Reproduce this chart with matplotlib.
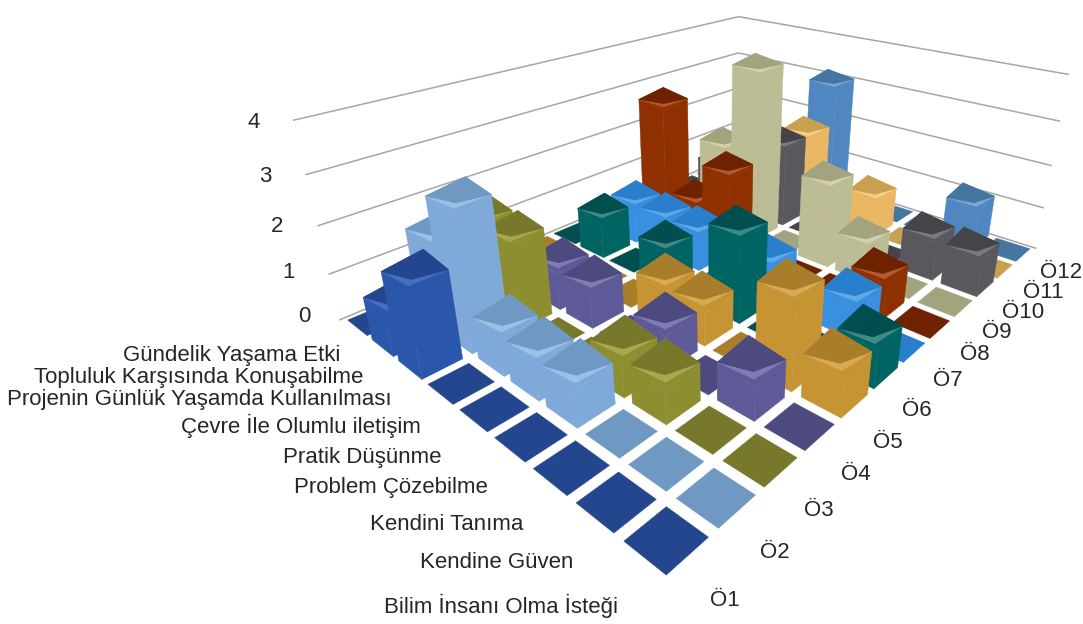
import numpy as np
import matplotlib
matplotlib.use("Agg")
import matplotlib.pyplot as plt
from mpl_toolkits.mplot3d.art3d import Poly3DCollection

WIDTH, HEIGHT = 1083, 624

categories = ["Bilim İnsanı Olma İsteği", "Kendine Güven", "Kendini Tanıma", "Problem Çözebilme",
              "Pratik Düşünme", "Çevre İle Olumlu iletişim", "Projenin Günlük Yaşamda Kullanılması",
              "Topluluk Karşısında Konuşabilme", "Gündelik Yaşama Etki"]
series_names = ["Ö1", "Ö2", "Ö3", "Ö4", "Ö5", "Ö6", "Ö7", "Ö8", "Ö9", "Ö10", "Ö11", "Ö12"]
level_ticks = [0, 1, 2, 3, 4]

# one list per student, running from the first category to the last
o1 = [0, 0, 0, 0, 0, 0, 1.8, 0.9, 0]
o2 = [0, 0, 0, 0.8, 0.8, 0.85, 2.85, 1.9, 0]
o3 = [0, 0, 0.75, 0.78, 0, 0, 1.85, 1.9, 0]
o4 = [0, 0.75, 0, 0.8, 0, 0.85, 0.9, 0, 0]
o5 = [0.85, 1.8, 0, 0.82, 0.85, 0, 0, 0, 0]
o6 = [0.85, 0, 0, 1.85, 0, 0.9, 0, 0.95, 0]
o7 = [0, 0.8, 0, 0.88, 0, 0.9, 0.93, 0.95, 0]
o8 = [0, 0.85, 0, 0, 0, 1.9, 0.95, 3, 0]
o9 = [0, 0, 0.88, 1.9, 0, 3.95, 2, 0, 0]
o10 = [0.9, 0.95, 0, 0, 0, 2, 0, 1, 0]
o11 = [0, 0, 0, 0.95, 0, 2, 0, 0, 0]
o12 = [0, 1, 0, 0, 0, 3, 0, 0, 0]
values = [o1, o2, o3, o4, o5, o6, o7, o8, o9, o10, o11, o12]

# (top, bevel, side) for every student
palette = [
    ("#24468f", "#4570bd", "#2b57ab"),
    ("#6f98c3", "#9cc0e6", "#7fa9d9"),
    ("#77782b", "#a8a84c", "#8d8e30"),
    ("#4d4a80", "#807cb3", "#5e5a98"),
    ("#a87e2a", "#d8aa55", "#c79433"),
    ("#004f4e", "#3f8a87", "#006463"),
    ("#2a7fcc", "#60aaea", "#3a90e0"),
    ("#6e2200", "#b55a30", "#8f3000"),
    ("#a3a37e", "#d2d2ad", "#bcbc95"),
    ("#454549", "#7a7a7f", "#58585e"),
    ("#c9a050", "#f4d089", "#eab864"),
    ("#44769f", "#7ea6d2", "#5087c2"),
]

cat_label_xy = [(501, 606), (497, 562), (447, 524), (391, 488), (362, 457),
                (301, 426), (199, 400), (199, 377), (232, 356)]
ser_label_xy = [(725, 600), (775, 553), (819, 511), (856, 475), (888, 443), (917, 410),
                (948, 380), (975, 355), (997, 332), (1023, 312), (1043, 292), (1061, 273)]
tick_label_xy = [(304, 317), (289, 273), (277, 226), (265, 176), (254, 123)]

GAP = 0.1
INSET = 0.24
BAND = 0.11
TILT = 0.11  # shoulder of the bevel, in value units

fig = plt.figure(figsize=(WIDTH / 100, HEIGHT / 100), dpi=100)
side = 747
left = 716 - 0.5135 * side
bottom = (HEIGHT - 193) - 0.5135 * side
ax = fig.add_axes([left / WIDTH, bottom / HEIGHT, side / WIDTH, side / HEIGHT],
                  projection="3d", computed_zorder=False)
ax.set_proj_type("persp", focal_length=0.194)
ax.set_box_aspect((12, 9, 4.1))
ax.view_init(elev=24, azim=221.7)
ax.set_xlim(0, 12)
ax.set_ylim(0, 9)
ax.set_zlim(0, 4)
ax.set_axis_off()

# wall gridlines
for z in level_ticks:
    ax.plot([0, 12, 12], [9, 9, 0], [z, z, z], color="#a6a6a6", lw=1.1, clip_on=False, zorder=1)

order = [2]


def face(verts, color):
    poly = Poly3DCollection([verts], facecolor=color, edgecolor=color, linewidth=0.3, zorder=order[0])
    poly.set_clip_on(False)
    ax.add_collection3d(poly, autolim=False)
    order[0] += 1


# painted far cells first, so nearer bars cover them
for s in range(11, -1, -1):
    top, bevel, wall = palette[s]
    for c in range(8, -1, -1):
        v = values[s][c]
        x0, x1 = s + GAP, s + 1 - GAP
        y0, y1 = c + GAP, c + 1 - GAP
        if v == 0:
            face([(x0, y0, 0), (x1, y0, 0), (x1, y1, 0), (x0, y1, 0)], top)
            continue

        def on_top(dx, dy):
            # point on the tilted top, dx and dy measured from the near corner
            return (x0 + dx, y0 + dy, v + TILT * ((dx + dy) / (x1 - x0) - 1))

        w = x1 - x0
        front, lft, rgt, back = on_top(0, 0), on_top(0, w), on_top(w, 0), on_top(w, w)
        face([(x0, y0, 0), (x1, y0, 0), rgt, front], wall)
        face([(x0, y0, 0), (x0, y1, 0), lft, front], wall)
        face([front, rgt, back, lft], wall)
        # bevel band in front of the darker top
        face([lft, on_top(INSET - BAND, INSET - BAND), rgt, on_top(INSET, INSET)], bevel)
        face([lft, on_top(INSET, INSET), rgt, back], top)


def label(xy, text, **kw):
    fig.text(xy[0] / WIDTH, 1 - xy[1] / HEIGHT, text, ha="center", va="center",
             family="Liberation Sans", fontsize=16, color="#262626", **kw)


for xy, name in zip(cat_label_xy, categories):
    label(xy, name)
for xy, name in zip(ser_label_xy, series_names):
    label(xy, name)
for xy, tick in zip(tick_label_xy, level_ticks):
    label(xy, str(tick))

fig.savefig("out.png", dpi=100)
